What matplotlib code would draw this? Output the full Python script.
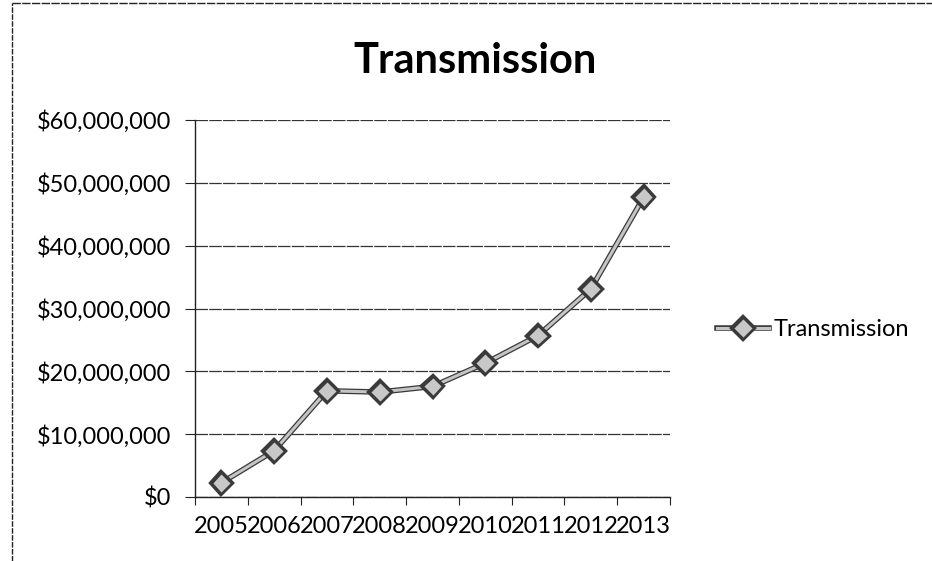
import matplotlib
matplotlib.use("Agg")
import matplotlib.pyplot as plt
import matplotlib.patheffects as pe
from matplotlib.ticker import FuncFormatter, MultipleLocator
from matplotlib.lines import Line2D

years = ["2005", "2006", "2007", "2008", "2009", "2010", "2011", "2012", "2013"]
values = [2.26e6, 7.37e6, 16.9e6, 16.7e6, 17.6e6, 21.3e6, 25.7e6, 33.1e6, 47.7e6]
series_name = "Transmission"
title = "Transmission"

plt.rcParams['font.family'] = ['Lato', 'DejaVu Sans']

W, H = 932, 561
fig = plt.figure(figsize=(W / 100, H / 100), dpi=100)
fig.patch.set_facecolor("white")

# outer chart border (left and top visible)
fig.add_artist(Line2D([12 / W, 12 / W], [0, 1 - 3 / H], color="#222222", lw=1.0,
                      linestyle=(0, (4, 1))))
fig.add_artist(Line2D([12 / W, 1], [1 - 3 / H, 1 - 3 / H], color="#222222", lw=1.0,
                      linestyle=(0, (6, 1))))

x0, x1 = 195, 670
y_top, y_bot = 120, 497
ax = fig.add_axes([x0 / W, 1 - y_bot / H, (x1 - x0) / W, (y_bot - y_top) / H])

xs = list(range(len(years)))
line_fx = [pe.Stroke(linewidth=4.0, foreground="#3a3a3a"), pe.Normal()]
ax.plot(xs, values, color="#c4c4c4", lw=2.2, marker="D", markersize=10,
        markerfacecolor="#c8c8c8", markeredgecolor="#3a3a3a", markeredgewidth=1.0,
        path_effects=line_fx, zorder=3, label=series_name)

ax.set_xlim(-0.5, len(years) - 0.5)
ax.set_ylim(0, 60e6)
ax.yaxis.set_major_locator(MultipleLocator(10e6))
ax.yaxis.set_major_formatter(FuncFormatter(lambda v, p: f"${v:,.0f}"))
ax.grid(axis="y", color="#333333", lw=0.9, linestyle=(0, (10, 1)))
ax.set_axisbelow(True)

ax.set_xticks([i + 0.5 for i in range(-1, len(years))], minor=False)
ax.set_xticklabels([])
ax.set_xticks(xs, minor=True)
ax.set_xticklabels(years, minor=True, fontsize=17)
ax.tick_params(axis="x", which="minor", length=0, pad=14)
ax.tick_params(axis="x", which="major", length=6, direction="out", color="#222222")
ax.tick_params(axis="y", length=7, direction="out", color="#222222", labelsize=17, pad=10)

for s in ["top", "right"]:
    ax.spines[s].set_visible(False)
for s in ["left", "bottom"]:
    ax.spines[s].set_color("#222222")
    ax.spines[s].set_linewidth(1.0)

fig.text(475 / W, 1 - 73 / H, title, ha="center", va="baseline", fontsize=30,
         fontweight="bold", color="black")

leg = fig.legend(handles=ax.get_lines(), labels=[series_name], loc="center left",
                 bbox_to_anchor=(696 / W, 1 - 330 / H), frameon=False, fontsize=17,
                 handlelength=2.2, handletextpad=0.2)

fig.savefig("out.png", dpi=100, facecolor="white")
